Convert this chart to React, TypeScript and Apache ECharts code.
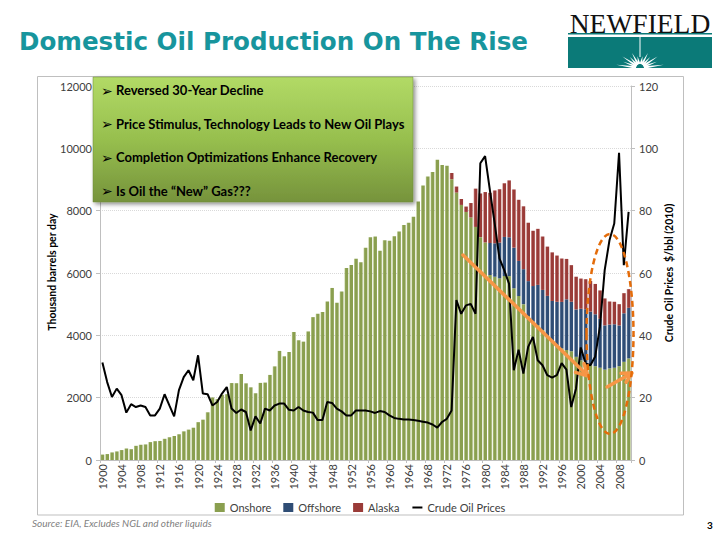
import React, { useEffect, useRef } from "react";
import * as echarts from "echarts";

// Years 1900..2010 on the category axis
const years: string[] = Array.from({ length: 111 }, (_, i) => String(1900 + i));

// Thousand barrels per day, lower-48 onshore (all non-Alaska before 1981)
const onshore = [
  174, 190, 243, 275, 319, 369, 347, 455, 489, 500,
  574, 604, 611, 680, 730, 770, 826, 919, 975, 1036,
  1214, 1294, 1531, 2007, 1951, 2092, 2112, 2469, 2464, 2760,
  2460, 2332, 2145, 2474, 2484, 2730, 3004, 3500, 3327, 3466,
  4107, 3842, 3798, 4125, 4584, 4695, 4751, 5088, 5520, 5046,
  5407, 6158, 6256, 6458, 6342, 6807, 7151, 7170, 6710, 7054,
  7035, 7183, 7332, 7542, 7614, 7804, 8295, 8810, 9096, 9238,
  9637, 9463, 9441, 9010, 8581, 8184, 7959, 7781, 7478, 7151,
  6980, 5936, 5880, 5830, 5900, 5900, 5510, 5260, 5000, 4620,
  4440, 4330, 4170, 3960, 3790, 3690, 3580, 3530, 3490, 3310,
  3200, 3120, 3040, 3010, 2960, 2900, 2940, 2960, 3010, 3150,
  3260,
];

// Offshore, 1981..2010
const offshoreFrom1981 = [
  1027, 1073, 1144, 1257, 1246, 1303, 1127, 1123, 1119,
  1142, 1289, 1287, 1305, 1313, 1386, 1492, 1626, 1587, 1521,
  1652, 1718, 1720, 1665, 1573, 1420, 1405, 1395, 1307, 1558,
  1622,
];

// Alaska, 1973..2010
const alaskaFrom1973 = [
  198, 193, 191, 173, 464, 1229, 1401,
  1617, 1609, 1696, 1714, 1722, 1825, 1867, 1962, 2017, 1874,
  1773, 1798, 1714, 1582, 1559, 1484, 1393, 1296, 1175, 1050,
  970, 963, 984, 974, 908, 864, 741, 722, 683, 645,
  600,
];

// Crude oil price, $/bbl (2010 dollars)
const crudePrice = [
  31.3, 25.0, 20.2, 22.9, 20.8, 15.2, 17.9, 17.0, 17.5, 17.0,
  14.3, 14.3, 16.5, 21.1, 17.5, 14.0, 22.4, 26.6, 28.8, 25.6,
  33.6, 21.3, 21.1, 17.5, 18.6, 21.3, 23.4, 16.5, 15.1, 16.2,
  15.4, 9.5, 14.0, 11.7, 16.5, 15.9, 17.5, 18.1, 18.1, 16.1,
  15.9, 17.0, 15.9, 15.4, 15.2, 12.8, 12.8, 18.6, 18.3, 16.5,
  15.6, 14.3, 14.3, 15.9, 15.9, 15.9, 15.6, 15.1, 15.7, 15.4,
  14.3, 13.5, 13.2, 13.0, 13.0, 12.8, 12.6, 12.3, 12.0, 11.4,
  10.4, 12.2, 13.2, 15.9, 51.3, 46.9, 49.6, 50.1, 46.9, 95.2,
  97.5, 86.6, 75.9, 64.7, 60.9, 56.6, 28.8, 35.4, 27.7, 36.3,
  39.5, 32.0, 30.4, 27.2, 26.4, 27.2, 31.1, 29.0, 17.0, 22.9,
  36.1, 31.0, 30.4, 33.1, 42.7, 60.9, 70.5, 75.9, 98.6, 62.5,
  79.6,
];

const bullets = [
  "Reversed 30-Year Decline",
  "Price Stimulus, Technology Leads to New Oil Plays",
  "Completion Optimizations Enhance Recovery",
  "Is Oil the \u201cNew\u201d Gas???",
];

// Sunburst rays in the logo: [angle in degrees, length]
const burstRays: [number, number][] = [
  [8, 24], [20, 18], [33, 21], [47, 15], [62, 17], [78, 12],
  [102, 12], [118, 17], [133, 15], [147, 21], [160, 18], [172, 24],
];

const offshore = Array(81).fill(null).concat(offshoreFrom1981);
const alaska = Array(73).fill(null).concat(alaskaFrom1973);

const barGradient = (light: string, main: string) =>
  new echarts.graphic.LinearGradient(0, 0, 1, 0, [
    { offset: 0, color: light },
    { offset: 0.3, color: main },
    { offset: 1, color: main },
  ]);

function arrowHead(tx: number, ty: number, fx: number, fy: number, len: number) {
  const dx = tx - fx;
  const dy = ty - fy;
  const d = Math.hypot(dx, dy);
  const bx = -dx / d;
  const by = -dy / d;
  const a = (28 * Math.PI) / 180;
  const c = Math.cos(a);
  const s = Math.sin(a);
  const p1 = [tx + len * (bx * c - by * s), ty + len * (bx * s + by * c)];
  const p2 = [tx + len * (bx * c + by * s), ty + len * (-bx * s + by * c)];
  return [p1, [tx, ty], p2];
}

export default function App() {
  const ref = useRef<HTMLDivElement>(null);

  useEffect(() => {
    if (!ref.current) return;
    const chart = echarts.init(ref.current, undefined, { renderer: "svg" });

    const green = "#8a9f4f";
    const blue = "#2f4d75";
    const red = "#9a3b38";
    const orange = "#f79646";
    const darkOrange = "#e46c0a";

    const logoCx = 640;
    const logoCy = 68;

    const graphics: any[] = [
      // slide frame around the chart
      {
        type: "rect",
        z: 0,
        shape: { x: 37.5, y: 76.5, width: 646, height: 438.5 },
        style: { fill: "none", stroke: "#bfbfbf", lineWidth: 1 },
      },
      // title
      {
        type: "text",
        x: 19,
        y: 41,
        style: {
          text: "Domestic Oil Production On The Rise",
          fontFamily: "DejaVu Sans",
          fontWeight: "bold",
          fontSize: 24.6,
          fill: "#17959d",
          verticalAlign: "middle",
        },
      },
      // logo
      {
        type: "text",
        x: 640,
        y: 23,
        style: {
          text: "NEWFIELD",
          fontFamily: "Liberation Serif",
          fontSize: 27.5,
          fill: "#111",
          align: "center",
          verticalAlign: "middle",
        },
      },
      { type: "rect", shape: { x: 568, y: 33, width: 144, height: 1.5 }, style: { fill: "#0b7a78" } },
      { type: "rect", shape: { x: 568, y: 37, width: 144, height: 31 }, style: { fill: "#0b7a78" } },
      { type: "rect", shape: { x: 639.5, y: 37, width: 1, height: 20 }, style: { fill: "#ffffff" } },
      ...burstRays.map(([deg, len]) => {
        const a = (deg * Math.PI) / 180;
        const tx = logoCx + len * Math.cos(a);
        const ty = logoCy - len * Math.sin(a);
        const px = Math.sin(a) * 1.3;
        const py = Math.cos(a) * 1.3;
        return {
          type: "polygon",
          shape: {
            points: [
              [logoCx + 4 * Math.cos(a) - px, logoCy - 4 * Math.sin(a) - py],
              [tx, ty],
              [logoCx + 4 * Math.cos(a) + px, logoCy - 4 * Math.sin(a) + py],
            ],
          },
          style: { fill: "#ffffff" },
        };
      }),
      // axis titles
      {
        type: "text",
        x: 52,
        y: 272,
        rotation: Math.PI / 2,
        style: {
          text: "Thousand barrels per day",
          fontFamily: "Lato",
          fontWeight: "bold",
          fontSize: 10.5,
          fill: "#000",
          align: "center",
          verticalAlign: "middle",
        },
      },
      {
        type: "text",
        x: 669,
        y: 273,
        rotation: Math.PI / 2,
        style: {
          text: "Crude Oil Prices  $/bbl (2010)",
          fontFamily: "Lato",
          fontWeight: "bold",
          fontSize: 10.5,
          fill: "#000",
          align: "center",
          verticalAlign: "middle",
        },
      },
      // callout box with bullet points
      {
        type: "rect",
        z: 50,
        shape: { x: 93, y: 77, width: 320, height: 125 },
        style: {
          fill: new echarts.graphic.LinearGradient(0, 0, 0, 1, [
            { offset: 0, color: "#b2da66" },
            { offset: 0.5, color: "#97bf4e" },
            { offset: 1, color: "#76933c" },
          ]),
          stroke: "#6f8a38",
          lineWidth: 0.5,
          shadowBlur: 4,
          shadowOffsetX: 2,
          shadowOffsetY: 2,
          shadowColor: "rgba(0,0,0,0.45)",
        },
      },
      ...bullets.flatMap((t, i) => [
        {
          type: "text",
          z: 51,
          x: 101,
          y: 90.5 + i * 33.5,
          style: {
            text: "\u27A2",
            fontFamily: "DejaVu Sans",
            fontSize: 14,
            fill: "#000",
            verticalAlign: "middle",
          },
        },
        {
          type: "text",
          z: 51,
          x: 116,
          y: 90 + i * 33.5,
          style: {
            text: t,
            fontFamily: "Lato",
            fontWeight: "bold",
            fontSize: 13,
            fill: "#000",
            verticalAlign: "middle",
          },
        },
      ]),
      // annotations
      {
        type: "line",
        z: 60,
        shape: { x1: 463, y1: 255, x2: 587, y2: 375 },
        style: { stroke: orange, lineWidth: 3.5, lineCap: "round" },
      },
      {
        type: "polyline",
        z: 60,
        shape: { points: arrowHead(588, 376, 463, 255, 13) },
        style: { stroke: orange, lineWidth: 3.5, fill: "none", lineJoin: "round", lineCap: "round" },
      },
      {
        type: "line",
        z: 60,
        shape: { x1: 607, y1: 387, x2: 631, y2: 373.5 },
        style: { stroke: orange, lineWidth: 3.5, lineCap: "round" },
      },
      {
        type: "polyline",
        z: 60,
        shape: { points: arrowHead(632, 373, 607, 387, 11) },
        style: { stroke: orange, lineWidth: 3.5, fill: "none", lineJoin: "round", lineCap: "round" },
      },
      {
        type: "ellipse",
        z: 60,
        shape: { cx: 610, cy: 334, rx: 23.5, ry: 100 },
        style: { fill: "none", stroke: darkOrange, lineWidth: 2.5, lineDash: [6, 4] },
      },
      // footer
      {
        type: "text",
        x: 32,
        y: 523,
        style: {
          text: "Source: EIA, Excludes NGL and other liquids",
          fontFamily: "Lato",
          fontStyle: "italic",
          fontSize: 10,
          fill: "#7f7f7f",
          verticalAlign: "middle",
        },
      },
      {
        type: "text",
        x: 707,
        y: 525,
        style: {
          text: "3",
          fontFamily: "Lato",
          fontWeight: "bold",
          fontSize: 10,
          fill: "#000",
          verticalAlign: "middle",
        },
      },
    ];

    const plain = (v: number) => String(v);

    chart.setOption({
      animation: false,
      textStyle: { fontFamily: "Lato" },
      grid: { left: 100, right: 89, top: 86, bottom: 80, containLabel: false },
      legend: {
        top: 497,
        left: "center",
        itemWidth: 10,
        itemHeight: 9,
        itemGap: 12,
        textStyle: { fontSize: 11, color: "#404040" },
        data: [
          { name: "Onshore", icon: "rect", itemStyle: { color: green } },
          { name: "Offshore", icon: "rect", itemStyle: { color: blue } },
          { name: "Alaska", icon: "rect", itemStyle: { color: red } },
          {
            name: "Crude Oil Prices",
            itemStyle: { color: "rgba(0,0,0,0)", borderColor: "rgba(0,0,0,0)", borderWidth: 0 },
            lineStyle: { color: "#000", width: 2 },
          },
        ],
      },
      xAxis: {
        type: "category",
        data: years,
        boundaryGap: true,
        axisLine: { lineStyle: { color: "#bfbfbf" } },
        axisTick: { show: true, interval: 3, length: 3, lineStyle: { color: "#bfbfbf" } },
        axisLabel: { interval: 3, rotate: 90, fontSize: 11, color: "#404040", margin: 4 },
      },
      yAxis: [
        {
          type: "value",
          min: 0,
          max: 12000,
          interval: 2000,
          axisLine: { show: true, lineStyle: { color: "#bfbfbf" } },
          axisTick: { show: true, length: 4, lineStyle: { color: "#bfbfbf" } },
          splitLine: { lineStyle: { color: "#d9d9d9", type: "dotted" } },
          axisLabel: { fontSize: 11, color: "#404040", margin: 8, formatter: plain },
        },
        {
          type: "value",
          min: 0,
          max: 120,
          interval: 20,
          position: "right",
          axisLine: { show: true, lineStyle: { color: "#bfbfbf" } },
          axisTick: { show: true, length: 4, lineStyle: { color: "#bfbfbf" } },
          splitLine: { show: false },
          axisLabel: { fontSize: 11, color: "#404040", margin: 8, formatter: plain },
        },
      ],
      series: [
        {
          name: "Onshore",
          type: "bar",
          stack: "prod",
          barCategoryGap: "22%",
          data: onshore,
          itemStyle: { color: barGradient("#c3d19c", green) },
        },
        {
          name: "Offshore",
          type: "bar",
          stack: "prod",
          data: offshore,
          itemStyle: { color: barGradient("#94a7c2", blue) },
        },
        {
          name: "Alaska",
          type: "bar",
          stack: "prod",
          data: alaska,
          itemStyle: { color: barGradient("#d49a98", red) },
        },
        {
          name: "Crude Oil Prices",
          type: "line",
          yAxisIndex: 1,
          data: crudePrice,
          symbol: "none",
          z: 5,
          itemStyle: { color: "#000" },
          lineStyle: { color: "#000", width: 2 },
        },
      ],
      graphic: graphics,
    });

    return () => chart.dispose();
  }, []);

  return (
    <div
      ref={ref}
      style={{ position: "absolute", left: 0, top: 0, width: 720, height: 540, background: "#fff" }}
    />
  );
}
